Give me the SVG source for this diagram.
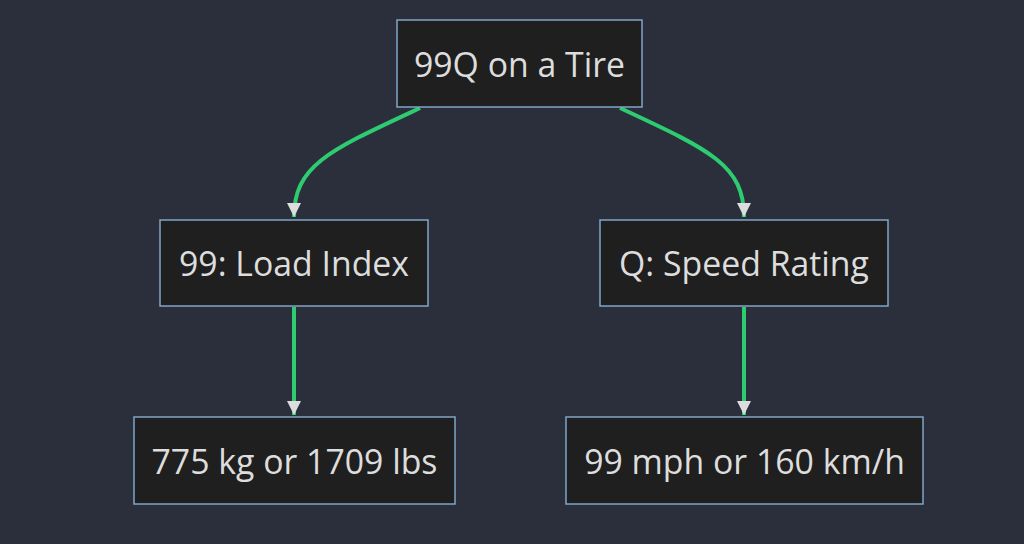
<svg xmlns="http://www.w3.org/2000/svg" width="1024" height="544" viewBox="0 0 1024 544">
<style>
.n rect{fill:#1f1f1f;stroke:#7fa6c9;stroke-width:1.5}
.n text{font-family:"Open Sans","DejaVu Sans",sans-serif;font-size:33.8px;fill:#dddddd;text-anchor:middle;dominant-baseline:central}
.c path{fill:none;stroke:#2ecc71;stroke-width:4}
</style>
<defs><marker id="a" markerWidth="14" markerHeight="14" refX="14" refY="7" orient="auto" markerUnits="userSpaceOnUse" viewBox="0 0 14 14"><path d="M0,0 L14,7 L0,14z" fill="#dddddd"/></marker></defs>
<rect width="1024" height="544" fill="#2a2f3b"/>
<g class="c">
<path d="M420,108 C330,150 294,165 294,217" marker-end="url(#a)"/>
<path d="M620,108 C710,150 744,165 744,217" marker-end="url(#a)"/>
<path d="M294,307 V415" marker-end="url(#a)"/>
<path d="M744,307 V415" marker-end="url(#a)"/>
</g>
<g id="top" class="n"><rect x="397" y="20" width="245" height="87"/><text x="519.5" y="63.5">99Q on a Tire</text></g>
<g id="load" class="n"><rect x="160" y="220" width="268" height="86"/><text x="294" y="263">99: Load Index</text></g>
<g id="speed" class="n"><rect x="600" y="220" width="288" height="86"/><text x="744" y="263">Q: Speed Rating</text></g>
<g id="kg" class="n"><rect x="134" y="417" width="321" height="87"/><text x="294.5" y="460.5">775 kg or 1709 lbs</text></g>
<g id="mph" class="n"><rect x="566" y="417" width="357" height="87"/><text x="744.5" y="460.5">99 mph or 160 km/h</text></g>
</svg>
